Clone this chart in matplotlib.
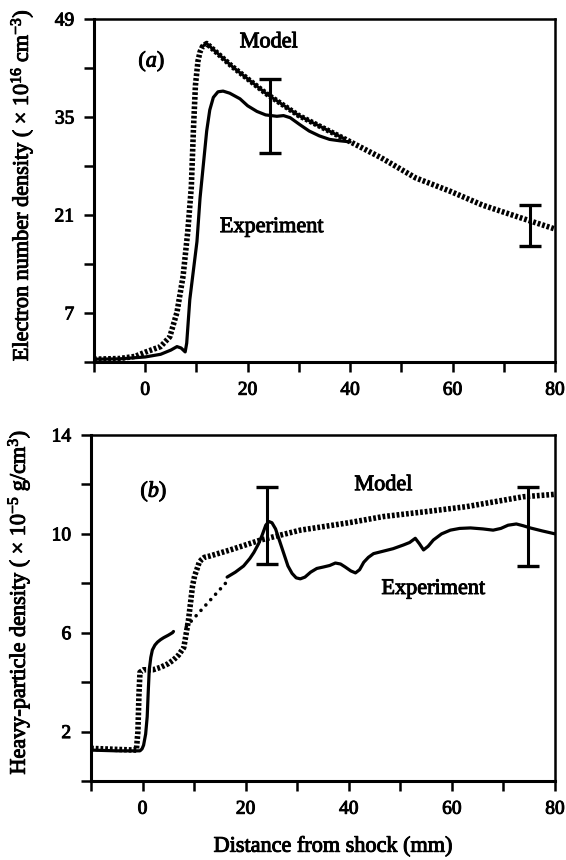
import matplotlib
matplotlib.use("Agg")
import matplotlib.pyplot as plt
import matplotlib.patheffects as pe
import numpy as np

plt.rcParams["font.family"] = ["Liberation Serif", "DejaVu Serif"]
plt.rcParams["mathtext.fontset"] = "custom"
plt.rcParams["mathtext.rm"] = "Liberation Serif"
plt.rcParams["mathtext.it"] = "Liberation Serif:italic"
plt.rcParams["mathtext.bf"] = "Liberation Serif:bold"

# ---- (a) electron number density (x 1e16 cm^-3) vs distance (mm) ----
dist_model_a = [-10, -5, -2, 0, 1.5, 3, 4.8, 6.2, 7.4, 8.3, 9.0, 9.4, 9.8, 10.3,
                10.7, 11.2, 12.0, 17, 23.7, 30, 38.6, 46, 52.8, 59.5, 65.9, 73.7, 80]
ne_model_a = [0.4, 0.5, 0.8, 1.4, 1.8, 2.2, 3.6, 7.1, 12.3, 18.6, 25, 33, 39.5, 43,
              44.3, 45.1, 45.5, 42.2, 38.3, 35.2, 32.0, 29.2, 26.3, 24.4, 22.4,
              20.5, 19.0]

dist_exp_a = [-10, -5, 0, 3, 5, 6.2, 7.0, 7.8, 8.1, 8.7, 10.1, 10.7, 12.0, 12.6,
              13.3, 14.2, 15.2, 16.5, 18.5, 20.0, 21.8, 23.5, 25.7, 27.0, 28.3,
              30.2, 32.0, 34.0, 36.0, 38.0, 40.0]
ne_exp_a = [0.4, 0.45, 0.72, 1.1, 1.7, 2.2, 2.0, 1.44, 2.7, 8.9, 17.2, 23.4, 33,
            36.0, 37.8, 38.6, 38.7, 38.4, 37.6, 36.6, 35.8, 35.3, 35.1, 35.2,
            34.9, 33.9, 33.0, 32.3, 31.8, 31.6, 31.45]

err_x_a = [24.3, 75.2]
err_y_a = [35.15, 19.5]
err_d_a = [5.25, 2.9]

# ---- (b) heavy-particle density (x 1e-5 g/cm^3) vs distance (mm) ----
dist_model_b = [-10, -5, -1.2, -0.9, -0.7, -0.5, 0.2, 2, 3.5, 5, 6, 7, 8, 8.9,
                9.7, 10.1, 10.6, 11.0, 11.4, 12, 13, 17, 22.9, 30.6, 40, 46.7,
                55, 62.8, 73.8, 80]
rho_model_b = [1.32, 1.28, 1.25, 2.0, 3.5, 4.4, 4.5, 4.5, 4.6, 4.75, 4.9, 5.1,
               5.4, 6.5, 7.9, 8.3, 8.6, 8.85, 8.95, 9.05, 9.1, 9.35, 9.75, 10.15,
               10.45, 10.7, 10.9, 11.1, 11.5, 11.6]

dist_exp_b1 = [-10, -5, -0.5, -0.1, 0.2, 0.6, 0.9, 1.1, 1.3, 1.6, 1.9, 2.4, 2.9,
               3.5, 4.1, 5.0, 5.8, 6.0]
rho_exp_b1 = [1.25, 1.22, 1.22, 1.3, 1.45, 1.9, 2.6, 3.6, 4.5, 5.0, 5.3, 5.5,
              5.62, 5.72, 5.8, 5.9, 6.0, 6.05]

dist_exp_b_gap = [8.5, 16.3]
rho_exp_b_gap = [6.25, 8.05]

dist_exp_b2 = [16.4, 18.0, 19.6, 20.8, 21.6, 22.5, 23.2, 23.9, 24.5, 25.1, 25.8,
               26.6, 27.4, 28.2, 29.0, 29.8, 30.6, 31.5, 32.6, 33.8, 35.1, 36.3,
               37.4, 38.4, 39.3, 40.4, 41.3, 42.1, 42.9, 43.8, 44.8, 46.7, 48.6,
               50.6, 51.8, 52.9, 53.7, 54.5, 55.4, 56.4, 58.0, 59.7, 61.5, 63.6,
               66.0, 68.0, 69.5, 70.9, 72.5, 73.8, 75.2, 77.5, 80.0]
rho_exp_b2 = [8.25, 8.45, 8.7, 9.0, 9.25, 9.6, 9.95, 10.35, 10.5, 10.45, 10.2,
              9.7, 9.2, 8.7, 8.4, 8.22, 8.18, 8.25, 8.45, 8.6, 8.66, 8.72, 8.82,
              8.78, 8.66, 8.5, 8.42, 8.55, 8.85, 9.05, 9.2, 9.3, 9.4, 9.55, 9.65,
              9.82, 9.6, 9.35, 9.5, 9.75, 10.0, 10.15, 10.22, 10.24, 10.2, 10.15,
              10.22, 10.35, 10.4, 10.33, 10.24, 10.12, 10.0]

err_x_b = [24.2, 74.8]
err_y_b = [10.33, 10.3]
err_d_b = [1.55, 1.6]

W, H = 566, 860
fig = plt.figure(figsize=(W / 100, H / 100), dpi=100)

INK = [pe.withStroke(linewidth=0.7, foreground="black")]


def frac_axes(left, top, right, bottom):
    return fig.add_axes([left / W, 1 - bottom / H, (right - left) / W, (bottom - top) / H])


ax_a = frac_axes(94, 19, 555, 362)
ax_b = frac_axes(91, 435, 555, 781)

ROPE = dict(color="black", lw=4.0, ls=(0, (0.5, 0.35)), dash_capstyle="butt")
SOLID = dict(color="black", lw=2.3, solid_capstyle="round", solid_joinstyle="round")


def style_axes(ax, ylim, yticks_major, yticks_minor):
    ax.set_xlim(-10, 80)
    ax.set_ylim(*ylim)
    ax.set_xticks(np.arange(0, 81, 20))
    ax.set_xticks(np.arange(-10, 81, 10), minor=True)
    ax.set_yticks(yticks_major)
    ax.set_yticks(yticks_minor, minor=True)
    ax.tick_params(which="both", direction="out", length=7.2, width=1.8,
                   labelsize=14, pad=7, top=False, right=False)
    for side in ("left", "bottom"):
        ax.spines[side].set_linewidth(2.2)
    for side in ("top", "right"):
        ax.spines[side].set_linewidth(1.8)
    for lab in ax.get_xticklabels() + ax.get_yticklabels():
        lab.set_path_effects(INK)


def label(ax, x, y, s):
    ax.text(x, y, s, fontsize=16, ha="center", va="center", path_effects=INK)


# panel (a)
xm = np.array(dist_model_a)
ym = np.array(ne_model_a)
ax_a.plot(xm, ym, **ROPE)
mid = (xm >= 11.2) & (xm <= 38.6)
ax_a.plot(xm[mid], ym[mid], color="black", lw=2.2)
ax_a.plot(dist_exp_a, ne_exp_a, **SOLID)
ax_a.errorbar(err_x_a, err_y_a, yerr=err_d_a, fmt="none", ecolor="black",
              elinewidth=2.2, capsize=8, capthick=2.4)
style_axes(ax_a, (0, 49), [7, 21, 35, 49], [0, 14, 28, 42])
label(ax_a, 1.3, 42.9, r"($\mathit{a}$)")
label(ax_a, 24.1, 45.6, "Model")
label(ax_a, 24.7, 19.2, "Experiment")

# panel (b)
ax_b.plot(dist_model_b, rho_model_b, **ROPE)
ax_b.plot(dist_exp_b1, rho_exp_b1, **SOLID)
ax_b.plot(dist_exp_b_gap, rho_exp_b_gap, color="black", lw=2.6,
          ls=(0, (0.01, 2.0)), dash_capstyle="round")
ax_b.plot(dist_exp_b2, rho_exp_b2, **SOLID)
ax_b.errorbar(err_x_b, err_y_b, yerr=err_d_b, fmt="none", ecolor="black",
              elinewidth=2.2, capsize=8, capthick=2.4)
style_axes(ax_b, (0, 14), [2, 6, 10, 14], [0, 4, 8, 12])
label(ax_b, 2.2, 11.7, r"($\mathit{b}$)")
label(ax_b, 46.7, 11.95, "Model")
label(ax_b, 56.4, 7.75, "Experiment")

fig.text(22 / W, 1 - 185 / H,
         r"Electron number density ( $\times$ 10$^{16}$ cm$^{-3}$)",
         rotation=90, fontsize=16, ha="center", va="center", path_effects=INK)
fig.text(19 / W, 1 - 602 / H,
         r"Heavy-particle density ( $\times$ 10$^{-5}$ g/cm$^{3}$)",
         rotation=90, fontsize=16, ha="center", va="center", path_effects=INK)
fig.text(333 / W, 1 - 847 / H, "Distance from shock (mm)",
         fontsize=16, ha="center", va="center", path_effects=INK)

fig.savefig("out.png", dpi=100, facecolor="white")
